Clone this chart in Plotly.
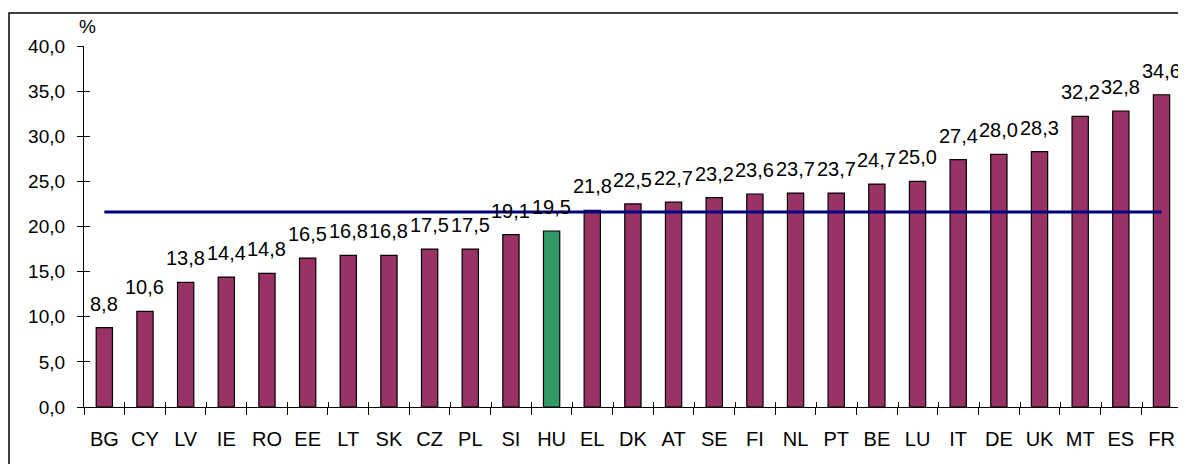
import plotly.graph_objects as go

countries = ['BG', 'CY', 'LV', 'IE', 'RO', 'EE', 'LT', 'SK', 'CZ', 'PL', 'SI', 'HU', 'EL', 'DK',
             'AT', 'SE', 'FI', 'NL', 'PT', 'BE', 'LU', 'IT', 'DE', 'UK', 'MT', 'ES', 'FR']
values = [8.8, 10.6, 13.8, 14.4, 14.8, 16.5, 16.8, 16.8, 17.5, 17.5, 19.1, 19.5, 21.8, 22.5,
          22.7, 23.2, 23.6, 23.7, 23.7, 24.7, 25.0, 27.4, 28.0, 28.3, 32.2, 32.8, 34.6]
eu_avg = 21.6
highlight = 'HU'

purple = '#993366'
green = '#339966'
font = 'Liberation Sans, Arial, sans-serif'

bar_colors = [green if c == highlight else purple for c in countries]

fig = go.Figure()
fig.add_trace(go.Bar(x=countries, y=values, marker_color=bar_colors,
                     marker_line_color='black', marker_line_width=1.2,
                     width=0.4, showlegend=False, hoverinfo='x+y'))
fig.add_trace(go.Scatter(x=countries, y=[eu_avg] * len(countries), mode='lines',
                         line=dict(color='#000080', width=3), showlegend=False))

# value labels above bars
for c, v in zip(countries, values):
    fig.add_annotation(x=c, y=v, text=f'{v:.1f}'.replace('.', ','), showarrow=False,
                       yanchor='bottom', yshift=11, font=dict(size=20, color='black', family=font))

fig.add_annotation(xref='paper', yref='paper', x=-0.006, y=1.02, text='%', showarrow=False,
                   yanchor='bottom', font=dict(size=19, color='black', family=font))

# plot area: page x 84..1183, y 46..407 (figure sits at 8,8 in the page)
L, R, T, B = 76, 3, 38, 57
W, H = 1178, 456
pw, ph = W - L - R, H - T - B

# outer frame
fig.add_shape(type='rect', xref='paper', yref='paper',
              x0=(1 - L) / pw, x1=1.05, y0=-0.3, y1=1 + (T - 5) / ph,
              line=dict(color='black', width=1.5), fillcolor='rgba(0,0,0,0)', layer='above')

ytickvals = [0, 5, 10, 15, 20, 25, 30, 35, 40]
fig.update_layout(
    width=W, height=H,
    margin=dict(l=L, r=R, t=T, b=B),
    paper_bgcolor='white', plot_bgcolor='white',
    font=dict(family=font, size=19, color='black'),
    xaxis=dict(type='category', showline=True, linecolor='black', linewidth=1.2,
               ticks='outside', ticklen=7, tickcolor='black', tickson='boundaries',
               ticklabelstandoff=14, showgrid=False, tickfont=dict(size=20)),
    xaxis2=dict(overlaying='x', range=[-0.5, len(countries) - 0.5], tick0=-0.5, dtick=1,
                ticks='inside', ticklen=5, tickcolor='black', showticklabels=False,
                showline=False, showgrid=False, zeroline=False, side='bottom'),
    yaxis=dict(range=[0, 40], tickvals=ytickvals,
               ticktext=[f'{t:.1f}'.replace('.', ',') for t in ytickvals],
               showline=True, linecolor='black', linewidth=1.2, ticks='outside', ticklen=6,
               tickcolor='black', ticklabelstandoff=8, showgrid=False, zeroline=False,
               tickfont=dict(size=19)),
    yaxis2=dict(overlaying='y', range=[0, 40], tickvals=ytickvals, ticks='inside', ticklen=6,
                tickcolor='black', showticklabels=False, showline=False, showgrid=False,
                zeroline=False, side='left'),
)
# invisible trace to make secondary axes render
fig.add_trace(go.Scatter(x=[0], y=[0], xaxis='x2', yaxis='y2', mode='markers',
                         marker=dict(opacity=0), showlegend=False, hoverinfo='skip'))

fig.write_html('out.html')
